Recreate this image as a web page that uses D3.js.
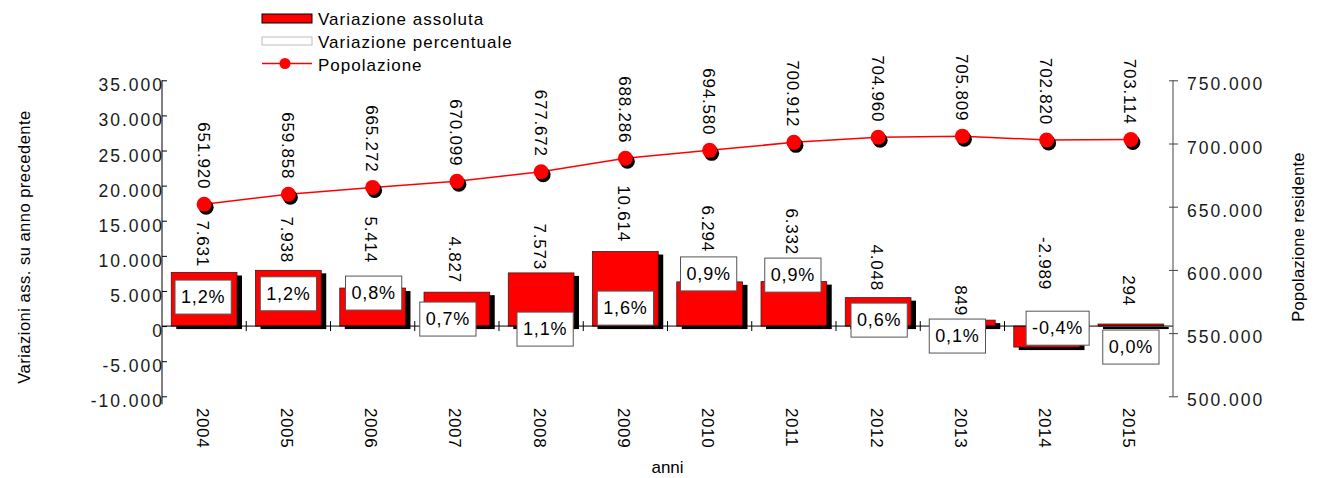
<!DOCTYPE html>
<html>
<head>
<meta charset="utf-8">
<script src="https://cdn.jsdelivr.net/npm/d3@7"></script>
<style>
  html, body { margin: 0; padding: 0; background: #fff; }
  svg { display: block; font-family: "Liberation Sans", Arial, sans-serif; }
</style>
</head>
<body>
<svg id="chart" width="1317" height="478"></svg>
<script>
// ---------------- data ----------------
const years = ["2004","2005","2006","2007","2008","2009","2010","2011","2012","2013","2014","2015"];
const absVariation = [7631, 7938, 5414, 4827, 7573, 10614, 6294, 6332, 4048, 849, -2989, 294];
const pctVariation = [1.2, 1.2, 0.8, 0.7, 1.1, 1.6, 0.9, 0.9, 0.6, 0.1, -0.4, 0.0];
const population = [651920, 659858, 665272, 670099, 677672, 688286, 694580, 700912, 704960, 705809, 702820, 703114];
const leftTicks = [-10000, -5000, 0, 5000, 10000, 15000, 20000, 25000, 30000, 35000];
const rightTicks = [500000, 550000, 600000, 650000, 700000, 750000];
const legendLabels = ["Variazione assoluta", "Variazione percentuale", "Popolazione"];
const leftTitle = "Variazioni ass. su anno precedente";
const rightTitle = "Popolazione residente";
const xTitle = "anni";

// ---------------- label layout (left-axis units / px nudges) ----------------
const pctLabelAt  = [4130, 4600, 4700, 1000, -430, 2560, 7430, 7260, 850, -1420, -300, -2990];
const pctLabelDx  = [-1, 0, 1, -9, 4, 0, -1, -1, 1, -5, 11, 0];
const absLabelEnd = [8400, 8970, 8970, 6120, 7970, 11960, 10540, 10110, 4980, 1420, 5130, 2850];

// ---------------- setup ----------------
const it = d3.formatLocale({decimal: ",", thousands: ".", grouping: [3], currency: ["", "€"], minus: "-"});
const fmtInt = it.format(",d");
const fmtPct = v => it.format(".1f")(v) + "%";

const svg = d3.select("#chart");
const L = 162, R = 1173, T = 80.3, B = 396.3;

const x = d3.scaleBand().domain(years).range([L, R]).padding(0);
const yL = d3.scaleLinear().domain([-10000, 35000]).range([B, T]);
const yR = d3.scaleLinear().domain([500000, 750000]).range([B, T]);
const bw = x.bandwidth() * 0.78;
const cx = d => x(d) + x.bandwidth() / 2;

// ---------------- bars ----------------
const rows = years.map((yr, i) => ({yr, v: absVariation[i], p: pctVariation[i], pop: population[i], i}));

const gBars = svg.append("g");
gBars.selectAll("rect.shadow").data(rows).join("rect")
  .attr("class", "shadow")
  .attr("x", d => cx(d.yr) - bw / 2 + 5)
  .attr("y", d => Math.min(yL(d.v), yL(0)) + 3)
  .attr("width", bw)
  .attr("height", d => Math.max(1, Math.abs(yL(d.v) - yL(0))))
  .attr("fill", "#000");
gBars.selectAll("rect.bar").data(rows).join("rect")
  .attr("class", "bar")
  .attr("x", d => cx(d.yr) - bw / 2)
  .attr("y", d => Math.min(yL(d.v), yL(0)))
  .attr("width", bw)
  .attr("height", d => Math.max(1, Math.abs(yL(d.v) - yL(0))))
  .attr("fill", "#ff0000")
  .attr("stroke", "#3a1a1a")
  .attr("stroke-width", 0.8);

// ---------------- x axis (zero line) ----------------
const y0 = yL(0);
svg.append("line").attr("x1", L).attr("x2", R).attr("y1", y0).attr("y2", y0)
  .attr("stroke", "#000").attr("stroke-width", 1);
svg.append("g").selectAll("line").data(years.slice(1)).join("line")
  .attr("x1", d => x(d)).attr("x2", d => x(d))
  .attr("y1", y0 - 5).attr("y2", y0 + 5)
  .attr("stroke", "#000").attr("stroke-width", 1);

// year labels
svg.append("g").selectAll("text").data(years).join("text")
  .attr("transform", d => `translate(${cx(d) - 2},408) rotate(90)`)
  .attr("text-anchor", "start")
  .attr("dominant-baseline", "central")
  .attr("font-size", 17)
  .attr("letter-spacing", 0.6)
  .attr("fill", "#000")
  .text(d => d);

svg.append("text").attr("x", (L + R) / 2).attr("y", 473)
  .attr("text-anchor", "middle").attr("font-size", 17).attr("fill", "#000").text(xTitle);

// ---------------- left axis ----------------
const axL = d3.axisLeft(yL).tickValues(leftTicks).tickFormat(d => fmtInt(d))
  .tickSizeInner(-5).tickSizeOuter(0).tickPadding(-2);
const gL = svg.append("g").attr("transform", `translate(${L},0)`).call(axL);
gL.select(".domain").remove();
gL.selectAll(".tick line").attr("stroke", "#000");
gL.selectAll(".tick text").attr("font-size", 17.5).attr("letter-spacing", 2)
  .attr("font-family", "Liberation Sans, Arial, sans-serif").attr("fill", "#1a1a1a").attr("dy", "0.6em");
svg.append("line").attr("x1", L).attr("x2", L).attr("y1", T).attr("y2", B + 8)
  .attr("stroke", "#000").attr("stroke-width", 1);

svg.append("text")
  .attr("transform", `translate(29.5,247) rotate(-90)`)
  .attr("text-anchor", "middle").attr("font-size", 16.5).attr("letter-spacing", 0.5)
  .attr("fill", "#000").text(leftTitle);

// ---------------- right axis ----------------
const axR = d3.axisRight(yR).tickValues(rightTicks).tickFormat(d => fmtInt(d))
  .tickSizeInner(5).tickSizeOuter(0).tickPadding(9);
const gR = svg.append("g").attr("transform", `translate(${R},0)`).call(axR);
gR.select(".domain").remove();
gR.selectAll(".tick line").attr("x1", -4).attr("stroke", "#444");
gR.selectAll(".tick text").attr("font-size", 17.5).attr("letter-spacing", 2)
  .attr("font-family", "Liberation Sans, Arial, sans-serif").attr("fill", "#1a1a1a").attr("dy", "0.55em");
svg.append("line").attr("x1", R).attr("x2", R).attr("y1", T).attr("y2", B)
  .attr("stroke", "#444").attr("stroke-width", 1);

svg.append("text")
  .attr("transform", `translate(1304,237) rotate(-90)`)
  .attr("text-anchor", "middle").attr("font-size", 16.5).attr("letter-spacing", 0.3)
  .attr("fill", "#000").text(rightTitle);

// ---------------- absolute value labels ----------------
svg.append("g").selectAll("text").data(rows).join("text")
  .attr("transform", d => `translate(${cx(d.yr) - 2},${yL(absLabelEnd[d.i])}) rotate(90)`)
  .attr("text-anchor", "end")
  .attr("dominant-baseline", "central")
  .attr("font-size", 17).attr("letter-spacing", 0.8)
  .attr("fill", "#000")
  .text(d => fmtInt(d.v));

// ---------------- percent boxes ----------------
const gP = svg.append("g");
rows.forEach(d => {
  const g = gP.append("g")
    .attr("transform", `translate(${cx(d.yr) + pctLabelDx[d.i]},${yL(pctLabelAt[d.i])})`);
  const rect = g.append("rect").attr("fill", "#fff").attr("stroke", "#555").attr("stroke-width", 1);
  const t = g.append("text").attr("text-anchor", "middle").attr("dominant-baseline", "central")
    .attr("font-size", 18).attr("letter-spacing", 0.8).attr("fill", "#000").text(fmtPct(d.p));
  const w = t.node().getComputedTextLength() + 12;
  rect.attr("x", -w / 2).attr("y", -17).attr("width", w).attr("height", 34);
});

// ---------------- population line ----------------
const line = d3.line().x(d => cx(d.yr)).y(d => yR(d.pop));
svg.append("path").datum(rows).attr("d", line)
  .attr("fill", "none").attr("stroke", "#ff0000").attr("stroke-width", 1.5);
svg.append("g").selectAll("circle").data(rows).join("circle")
  .attr("cx", d => cx(d.yr) + 2).attr("cy", d => yR(d.pop) + 3).attr("r", 7.5).attr("fill", "#000");
svg.append("g").selectAll("circle").data(rows).join("circle")
  .attr("cx", d => cx(d.yr)).attr("cy", d => yR(d.pop)).attr("r", 7.5).attr("fill", "#ff0000");

svg.append("g").selectAll("text").data(rows).join("text")
  .attr("transform", d => `translate(${cx(d.yr) - 1},${yR(d.pop) - 15}) rotate(90)`)
  .attr("text-anchor", "end")
  .attr("dominant-baseline", "central")
  .attr("font-size", 17).attr("letter-spacing", 0.8)
  .attr("fill", "#000")
  .text(d => fmtInt(d.pop));

// ---------------- legend ----------------
const lg = svg.append("g");
lg.append("rect").attr("x", 262).attr("y", 14).attr("width", 50).attr("height", 9)
  .attr("fill", "#ff0000").attr("stroke", "#000").attr("stroke-width", 1);
lg.append("rect").attr("x", 262).attr("y", 37).attr("width", 50).attr("height", 8)
  .attr("fill", "#fff").attr("stroke", "#bbb").attr("stroke-width", 1);
lg.append("line").attr("x1", 262).attr("x2", 312).attr("y1", 63.5).attr("y2", 63.5)
  .attr("stroke", "#ff0000").attr("stroke-width", 1.5);
lg.append("circle").attr("cx", 285).attr("cy", 63.5).attr("r", 5.5).attr("fill", "#ff0000");
const legY = [25, 48, 71];
lg.selectAll("text").data(legendLabels).join("text")
  .attr("x", 318).attr("y", (d, i) => legY[i])
  .attr("font-size", 17).attr("letter-spacing", 1).attr("fill", "#000")
  .text(d => d);
</script>
</body>
</html>
